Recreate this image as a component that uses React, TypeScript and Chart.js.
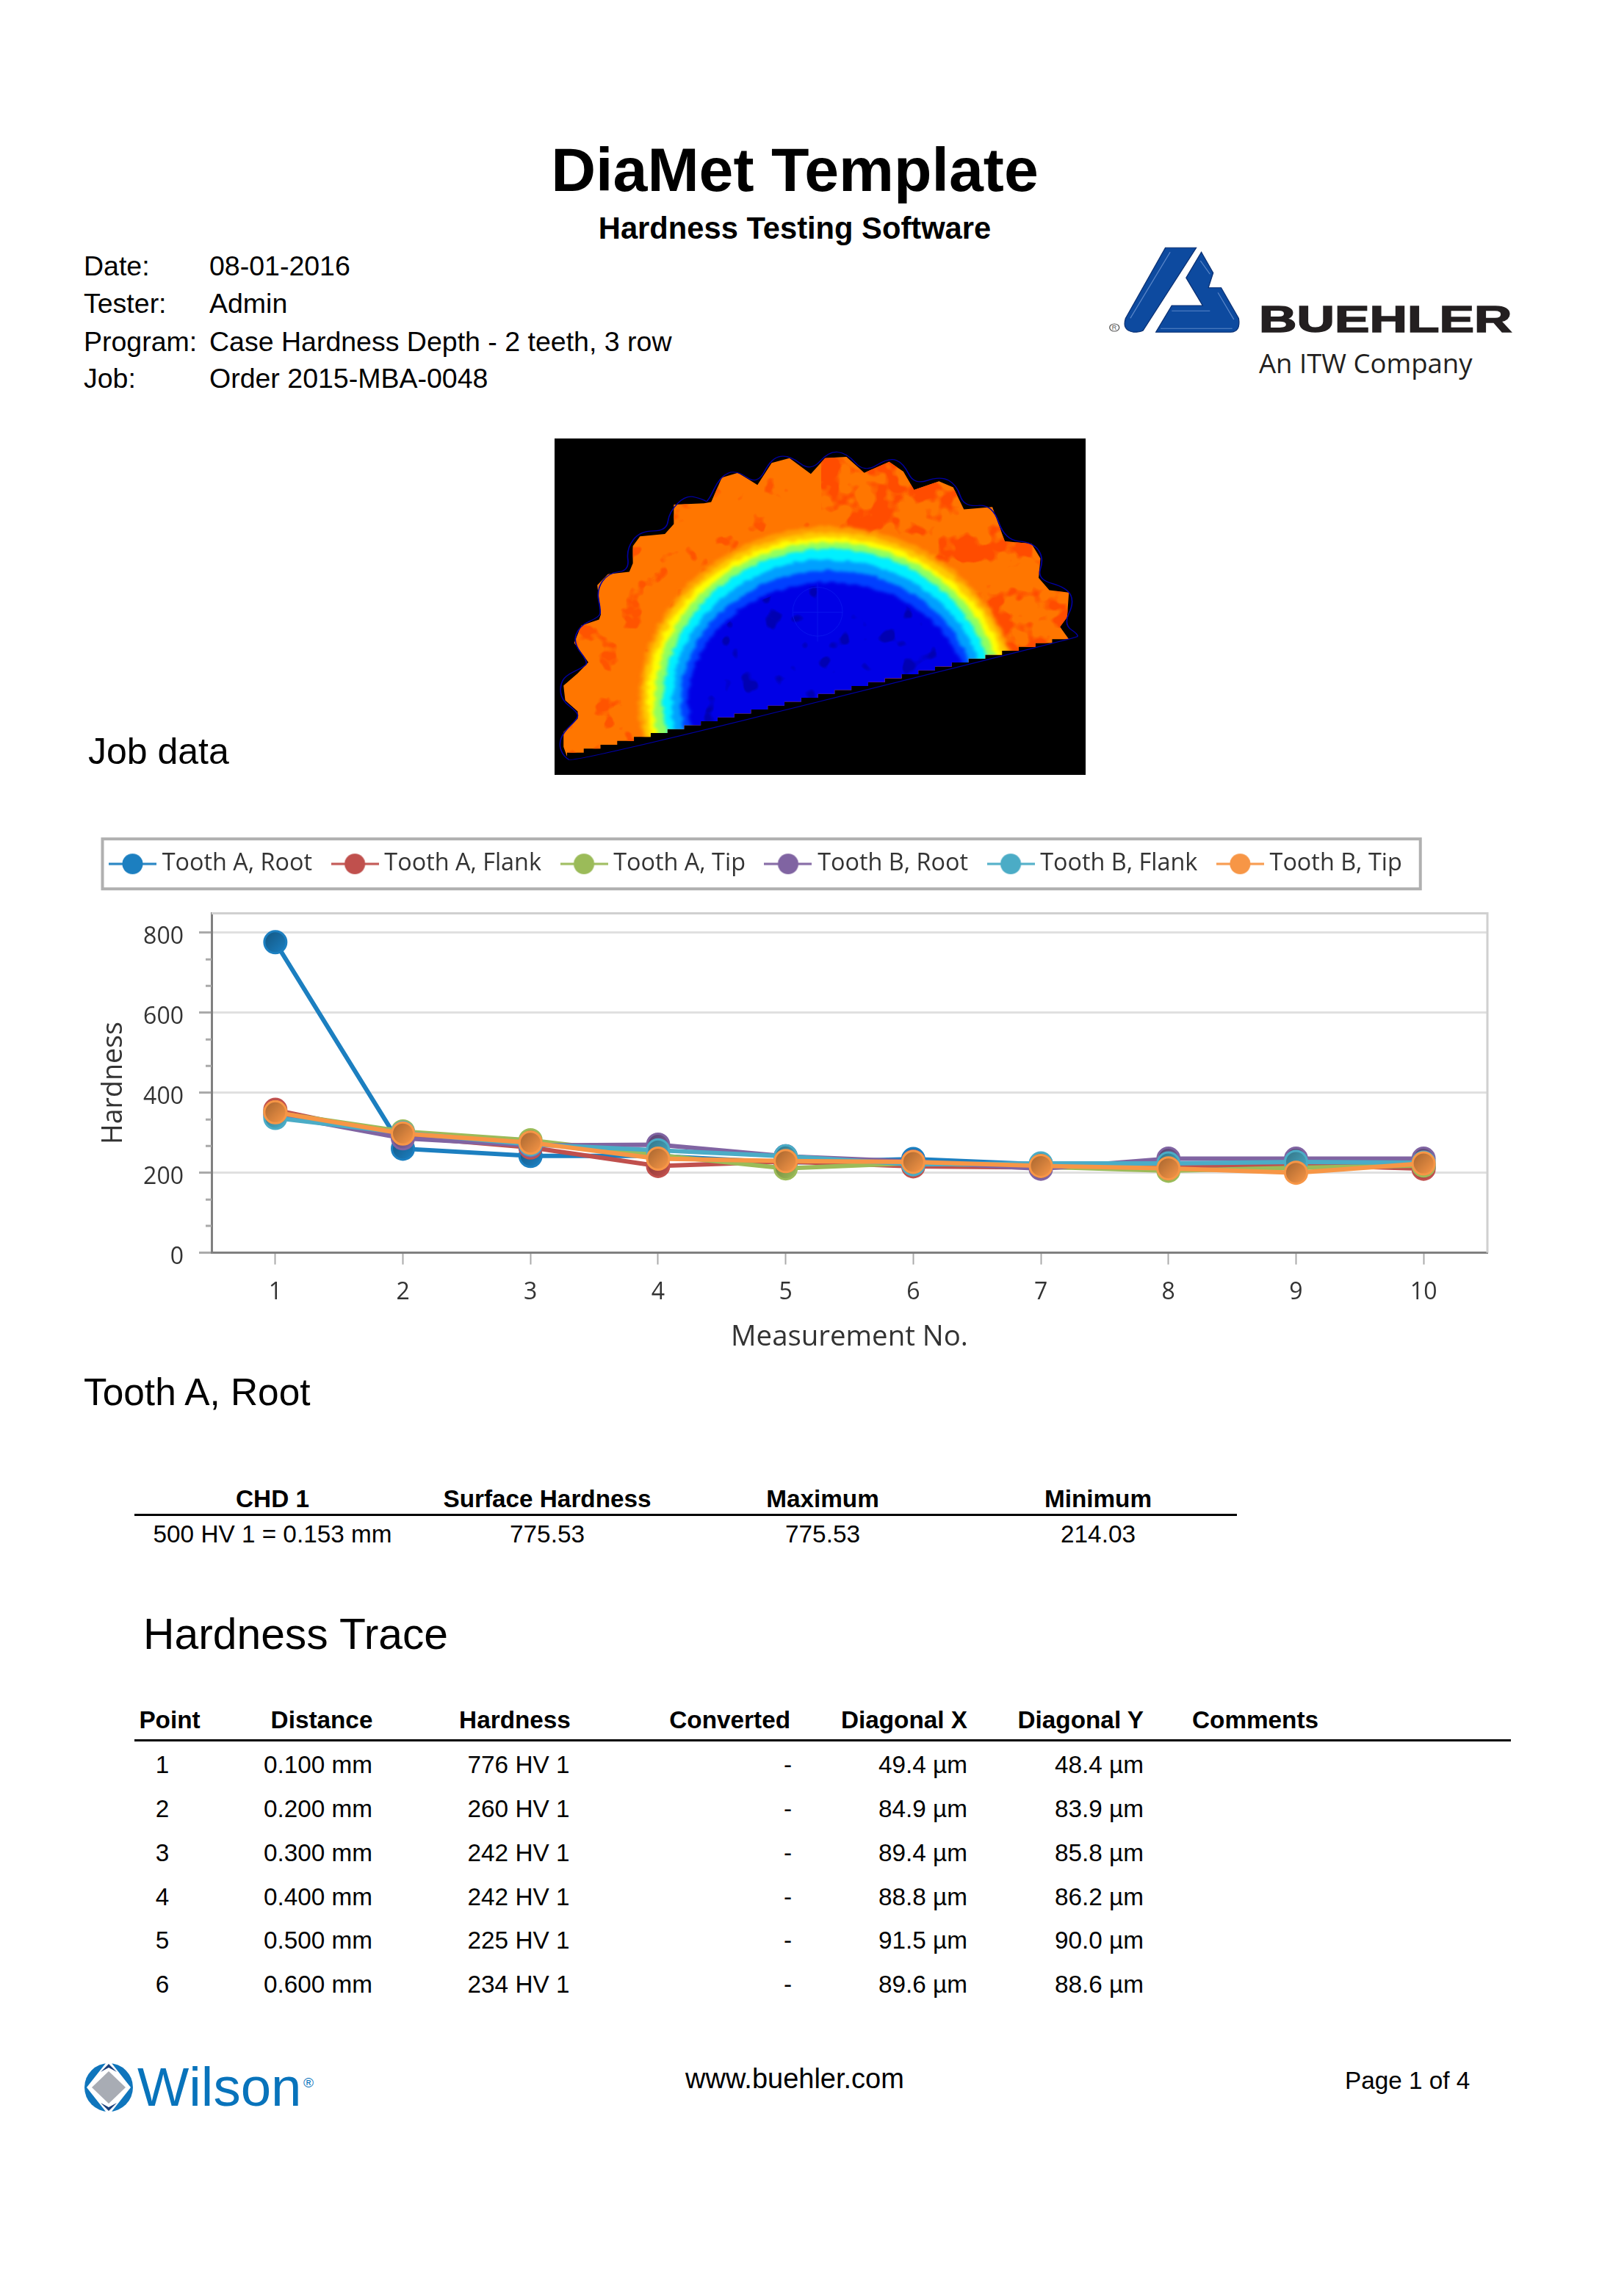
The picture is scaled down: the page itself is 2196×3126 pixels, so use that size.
import React, { useEffect, useRef } from "react";
import { Chart, registerables } from "chart.js";

Chart.register(...registerables);

const measurementNos = ["1", "2", "3", "4", "5", "6", "7", "8", "9", "10"];
const toothARoot = [776, 260, 242, 242, 225, 234, 221, 221, 226, 214];
const toothAFlank = [357, 290, 263, 217, 228, 216, 213, 216, 220, 210];
const toothATip = [350, 303, 281, 244, 211, 224, 215, 205, 212, 218];
const toothBRoot = [345, 286, 268, 270, 241, 228, 210, 235, 235, 235];
const toothBFlank = [337, 300, 271, 256, 241, 221, 223, 223, 227, 225];
const toothBTip = [351, 298, 275, 235, 229, 227, 217, 211, 200, 223];

const seriesNames = ["Tooth A, Root", "Tooth A, Flank", "Tooth A, Tip", "Tooth B, Root", "Tooth B, Flank", "Tooth B, Tip"];
const seriesValues = [toothARoot, toothAFlank, toothATip, toothBRoot, toothBFlank, toothBTip];
const seriesColors = ["#1c7fc0", "#c0504d", "#9bbb59", "#8064a2", "#4bacc6", "#f79646"];
const yMinorTicks = [67, 133, 267, 333, 467, 533, 667, 733];

const metaRows = [
  ["Date:", "08-01-2016"],
  ["Tester:", "Admin"],
  ["Program:", "Case Hardness Depth - 2 teeth, 3 row"],
  ["Job:", "Order 2015-MBA-0048"],
];
const summaryHeaders = ["CHD 1", "Surface Hardness", "Maximum", "Minimum"];
const summaryValues = ["500 HV 1 = 0.153 mm", "775.53", "775.53", "214.03"];
const tracePoints = ["1", "2", "3", "4", "5", "6"];
const traceDistances = ["0.100 mm", "0.200 mm", "0.300 mm", "0.400 mm", "0.500 mm", "0.600 mm"];
const traceHardness = ["776 HV 1", "260 HV 1", "242 HV 1", "242 HV 1", "225 HV 1", "234 HV 1"];
const traceDiagX = ["49.4 µm", "84.9 µm", "89.4 µm", "88.8 µm", "91.5 µm", "89.6 µm"];
const traceDiagY = ["48.4 µm", "83.9 µm", "85.8 µm", "86.2 µm", "90.0 µm", "88.6 µm"];

const CHART_FONT = '"Open Sans", sans-serif';
const DOC_FONT = '"Liberation Sans", Arial, sans-serif';

function shade(hex: string, k: number) {
  const n = parseInt(hex.slice(1), 16);
  const c = [(n >> 16) & 255, (n >> 8) & 255, n & 255].map((v) => Math.round(v * k));
  return `rgb(${c[0]},${c[1]},${c[2]})`;
}

function legendSymbol(color: string) {
  const c = document.createElement("canvas");
  c.width = 65;
  c.height = 32;
  const g = c.getContext("2d")!;
  g.strokeStyle = color;
  g.lineWidth = 3;
  g.beginPath();
  g.moveTo(0, 16);
  g.lineTo(65, 16);
  g.stroke();
  g.fillStyle = color;
  g.beginPath();
  g.arc(32.5, 16, 14, 0, Math.PI * 2);
  g.fill();
  return c;
}

const legendSpacing = {
  id: "legendSpacing",
  beforeInit(chart: any) {
    const legend = chart.legend;
    const fit = legend.fit;
    legend.fit = function () {
      fit.call(this);
      this.height = 117.6;
    };
  },
};

const tickLabelNudge = {
  id: "tickLabelNudge",
  afterUpdate(chart: any) {
    for (const item of chart.scales.y.getLabelItems()) item.textOffset += 6;
  },
};

const frameAndMinorTicks = {
  id: "frameAndMinorTicks",
  beforeDatasetsDraw(chart: any) {
    const { ctx, chartArea: a, scales, legend } = chart;
    ctx.save();
    ctx.strokeStyle = "#d0d0d0";
    ctx.lineWidth = 3;
    ctx.beginPath();
    ctx.moveTo(a.left, a.top);
    ctx.lineTo(a.right, a.top);
    ctx.lineTo(a.right, a.bottom);
    ctx.stroke();
    ctx.strokeStyle = "#aaaaaa";
    ctx.beginPath();
    for (const v of yMinorTicks) {
      const y = scales.y.getPixelForValue(v);
      ctx.moveTo(a.left - 8, y);
      ctx.lineTo(a.left, y);
    }
    ctx.stroke();
    const boxes = legend.legendHitBoxes;
    const first = boxes[0];
    const last = boxes[boxes.length - 1];
    ctx.strokeStyle = "#b0b0b0";
    ctx.lineWidth = 4;
    const cy = first.top + first.height / 2;
    ctx.strokeRect(first.left - 17, cy - 34, last.left + last.width + 25 - (first.left - 17), 68);
    ctx.restore();
  },
};

function T({ x, y, size, bold, align = "left", color = "#000", font = DOC_FONT, sx = 1, stroke = 0, children }: any) {
  const tx = align === "center" ? "-50%" : align === "right" ? "-100%" : "0";
  const origin = align === "center" ? "center" : align === "right" ? "right" : "left";
  return (
    <div
      style={{
        position: "absolute",
        left: x,
        top: y,
        fontFamily: font,
        fontSize: size,
        fontWeight: bold ? 700 : 400,
        color,
        whiteSpace: "nowrap",
        lineHeight: 1,
        transformOrigin: `${origin} center`,
        transform: `translate(${tx}, -50%) scaleX(${sx})`,
        WebkitTextStroke: stroke ? `${stroke}px ${color}` : undefined,
      }}
    >
      {children}
    </div>
  );
}

function smoothPath(p: number[][]) {
  let d = "";
  for (let i = 0; i < p.length; i++) {
    const a = p[i];
    const b = p[(i + 1) % p.length];
    const mx = (a[0] + b[0]) / 2;
    const my = (a[1] + b[1]) / 2;
    d += i === 0 ? `M${mx} ${my}` : `Q${a[0]} ${a[1]} ${mx} ${my}`;
  }
  const a = p[0];
  const b = p[1];
  return d + `Q${a[0]} ${a[1]} ${(a[0] + b[0]) / 2} ${(a[1] + b[1]) / 2}Z`;
}

const gearFill = [
  [55, 1310], [55, 1250], [95, 1195], [95, 1165], [60, 1120], [55, 1060], [95, 1010], [125, 965], [85, 885], [105, 815],
  [155, 790], [160, 770], [155, 710], [150, 650], [180, 605], [240, 595], [250, 560], [250, 490], [270, 450], [340, 440],
  [365, 400], [365, 320], [450, 315], [470, 310], [500, 210], [545, 190], [600, 240], [640, 150], [690, 130], [750, 195],
  [790, 130], [850, 125], [900, 190], [970, 145], [1010, 185], [1040, 260], [1110, 225], [1150, 250], [1180, 340],
  [1260, 330], [1295, 470], [1370, 480], [1395, 540], [1390, 620], [1420, 670], [1475, 680], [1470, 780], [1450, 820],
  [1475, 870],
];
const gearOutline = [
  [85, 1375], [55, 1350], [42, 1300], [55, 1250], [95, 1195], [95, 1170], [50, 1120], [45, 1060], [60, 1020], [110, 985],
  [125, 965], [82, 885], [100, 815], [155, 780], [160, 755], [148, 670], [180, 600], [240, 590], [232, 500], [270, 428],
  [345, 428], [352, 350], [400, 280], [450, 300], [460, 312], [495, 205], [540, 178], [600, 240], [640, 128], [690, 118],
  [750, 185], [800, 103], [850, 108], [900, 190], [970, 128], [1010, 150], [1040, 240], [1115, 203], [1160, 240],
  [1180, 330], [1260, 318], [1295, 465], [1375, 475], [1405, 540], [1385, 625], [1470, 660], [1490, 720], [1460, 810],
  [1505, 855], [1490, 866],
];

function stairEdge() {
  const out: number[][] = [];
  let x = 1475;
  let y = 870;
  while (x > 75) {
    out.push([x, y], [x - 47, y], [x - 47, y + 16]);
    x -= 47;
    y += 16;
  }
  return out;
}

function HeatMap() {
  const clip = [...gearFill, ...stairEdge()].map((p) => p.join(",")).join(" ");
  const outline = smoothPath(gearOutline);
  const bands: [number, number, string][] = [
    [533, 720, "#ff9c00"],
    [522, 697, "#ffc800"],
    [508, 675, "#ffff00"],
    [490, 655, "#90ff60"],
    [465, 630, "#00f0ff"],
    [440, 585, "#00a0ff"],
    [415, 540, "#0040ff"],
    [394, 492, "#0000e6"],
  ];
  return (
    <svg
      style={{ position: "absolute", left: 755, top: 597, width: 723, height: 458 }}
      viewBox="30 50 1492 1375"
      preserveAspectRatio="none"
    >
      <defs>
        <clipPath id="gear"><polygon points={clip} /></clipPath>
        <clipPath id="core"><ellipse cx="800" cy="1130" rx="385" ry="480" /></clipPath>
        <filter id="soft" x="-10%" y="-10%" width="120%" height="120%" colorInterpolationFilters="sRGB">
          <feTurbulence type="fractalNoise" baseFrequency="0.05" numOctaves="2" seed="3" result="n" />
          <feDisplacementMap in="SourceGraphic" in2="n" scale="22" xChannelSelector="R" yChannelSelector="G" />
          <feGaussianBlur stdDeviation="6" />
        </filter>
        <filter id="mottleWarm" x="0" y="0" width="100%" height="100%" colorInterpolationFilters="sRGB">
          <feTurbulence type="fractalNoise" baseFrequency="0.012 0.009" numOctaves="3" seed="4" />
          <feColorMatrix type="matrix" values="0 0 0 0 1  0 0 0 0 0.3  0 0 0 0 0  10 0 0 0 -5" />
        </filter>
        <filter id="mottleLeft" x="0" y="0" width="100%" height="100%" colorInterpolationFilters="sRGB">
          <feTurbulence type="fractalNoise" baseFrequency="0.014 0.01" numOctaves="3" seed="9" />
          <feColorMatrix type="matrix" values="0 0 0 0 1  0 0 0 0 0.33  0 0 0 0 0  10 0 0 0 -6.3" />
        </filter>
        <filter id="mottleDeep" x="0" y="0" width="100%" height="100%" colorInterpolationFilters="sRGB">
          <feTurbulence type="fractalNoise" baseFrequency="0.018 0.012" numOctaves="2" seed="12" />
          <feColorMatrix type="matrix" values="0 0 0 0 0  0 0 0 0 0  0 0 0 0 0.7  10 0 0 0 -6.4" />
        </filter>
      </defs>
      <rect x="30" y="50" width="1492" height="1375" fill="#000" />
      <g clipPath="url(#gear)">
        <rect x="30" y="50" width="1492" height="1375" fill="#ff7600" />
        <rect x="780" y="50" width="742" height="1000" filter="url(#mottleWarm)" />
        <rect x="30" y="50" width="750" height="1375" filter="url(#mottleLeft)" />
        <g filter="url(#soft)">
          {bands.map(([rx, ry, col]) => (
            <ellipse key={col} cx="800" cy="1130" rx={rx} ry={ry} fill={col} />
          ))}
        </g>
        <g clipPath="url(#core)">
          <rect x="30" y="50" width="1492" height="1375" filter="url(#mottleDeep)" />
        </g>
        <ellipse cx="769" cy="758" rx="70" ry="100" fill="none" stroke="#0a18ee" strokeWidth="2" />
        <path d="M769 640V880M700 760H840" fill="none" stroke="#0a18ee" strokeWidth="2" />
      </g>
      <path d={outline} fill="none" stroke="#0000a0" strokeWidth="3.5" />
    </svg>
  );
}

function BuehlerLogo() {
  return (
    <>
      <svg
        style={{ position: "absolute", left: 1450, top: 310, width: 680, height: 230 }}
        viewBox="0 0 1568 690"
        preserveAspectRatio="none"
      >
        <path d="M315 82H412L245 420Q235 427 215 427Q178 420 190 370Z" fill="#0d4a9f" stroke="#0a2f72" strokeWidth="3" />
        <path d="M428 100L465 185L450 245H490L545 370Q552 425 520 427H285L335 318H432L380 205Z" fill="#0d4a9f" stroke="#0a2f72" strokeWidth="3" />
        <path d="M335 340H455M480 265L530 375M300 412H525M425 135L455 190M330 100L205 370" fill="none" stroke="#5a86c8" strokeWidth="3" />
        <circle cx="155" cy="408" r="15" fill="none" stroke="#555" strokeWidth="3" />
      </svg>
      <T x={1517} y={446} size={9} align="center" color="#555">R</T>
      <T x={1714} y={435} size={50} bold sx={1.425} stroke={1.5} color="#231f20">BUEHLER</T>
      <T x={1714} y={494} size={36.5} color="#231f20" font={'"Open Sans", sans-serif'}>An ITW Company</T>
    </>
  );
}

function WilsonLogo() {
  return (
    <>
      <svg style={{ position: "absolute", left: 112, top: 2806, width: 72, height: 72 }} viewBox="0 0 72 72">
        <ellipse cx="36" cy="36" rx="33" ry="33" fill="#0f75bc" />
        <polygon points="36,-2 66,36 36,74 6,36" fill="#fff" />
        <polygon points="36,14 59,36 36,58 13,36" fill="#a8acb4" />
        <path d="M25 15L36 4L47 15L36 9Z M25 57L36 68L47 57L36 63Z" fill="#1b3f7a" />
      </svg>
      <T x={187} y={2842} size={74.5} color="#0873bb">Wilson</T>
      <T x={420} y={2835} size={19} align="center" color="#0873bb">®</T>
    </>
  );
}

export default function App() {
  const ref = useRef<HTMLCanvasElement | null>(null);

  useEffect(() => {
    const symbols = seriesColors.map(legendSymbol);
    const chart = new Chart(ref.current!, {
      type: "line",
      plugins: [legendSpacing, frameAndMinorTicks, tickLabelNudge],
      data: {
        labels: measurementNos,
        datasets: seriesNames.map((name, i) => ({
          label: name,
          data: seriesValues[i],
          order: seriesNames.length - i,
          borderColor: seriesColors[i],
          borderWidth: 6,
          tension: 0,
          fill: false,
          pointRadius: 15,
          pointHoverRadius: 15,
          pointBorderWidth: 3,
          pointBorderColor: seriesColors[i],
          pointBackgroundColor: (c: any) => {
            if (c.type !== "data") return seriesColors[i];
            const { x, y } = c.chart.scales;
            const px = x.getPixelForValue(c.dataIndex);
            const py = y.getPixelForValue(c.raw);
            if (!Number.isFinite(px) || !Number.isFinite(py)) return seriesColors[i];
            const g = c.chart.ctx.createLinearGradient(px - 12, py - 12, px + 12, py + 12);
            g.addColorStop(0, shade(seriesColors[i], 0.7));
            g.addColorStop(1, shade(seriesColors[i], 0.98));
            return g;
          },
        })),
      },
      options: {
        responsive: false,
        animation: false,
        layout: { padding: { left: 122.5, top: 2, right: 171, bottom: 0 } },
        plugins: {
          tooltip: { enabled: false },
          legend: {
            position: "top",
            align: "start",
            labels: {
              usePointStyle: true,
              pointStyleWidth: 48,
              padding: 34,
              color: "#333333",
              font: { family: CHART_FONT, size: 32.4 },
              generateLabels: () =>
                seriesNames.map((name, i) => ({
                  text: name,
                  datasetIndex: i,
                  pointStyle: symbols[i],
                  fillStyle: seriesColors[i],
                  strokeStyle: seriesColors[i],
                  lineWidth: 0,
                  fontColor: "#333333",
                })),
            },
          },
        },
        scales: {
          x: {
            type: "category",
            offset: true,
            afterFit: (s: any) => {
              s.height = 144.4;
            },
            grid: { drawOnChartArea: false, drawTicks: true, tickLength: 16, tickColor: "#aaaaaa", tickWidth: 2, offset: false },
            border: { color: "#808080", width: 3 },
            ticks: { color: "#333333", font: { family: CHART_FONT, size: 32 }, padding: 19, maxRotation: 0 },
            title: {
              display: true,
              text: "Measurement No.",
              color: "#333333",
              font: { family: CHART_FONT, size: 38.4 },
              padding: { top: 0, bottom: 6 },
            },
          },
          y: {
            min: 0,
            max: 848,
            afterFit: (s: any) => {
              s.width = 165.5;
            },
            grid: { color: "#e0e0e0", lineWidth: 3, tickLength: 17, tickColor: "#aaaaaa", tickWidth: 3 },
            border: { color: "#808080", width: 3 },
            ticks: {
              stepSize: 200,
              includeBounds: false,
              color: "#333333",
              font: { family: CHART_FONT, size: 32 },
              padding: 21,
            },
            title: {
              display: true,
              text: "Hardness",
              color: "#333333",
              font: { family: CHART_FONT, size: 37.6 },
              padding: { top: 10, bottom: 0 },
            },
          },
        },
      },
    } as any);
    return () => chart.destroy();
  }, []);

  const summaryX = [371, 745, 1120, 1495];
  const metaY = [363, 414, 466, 516];
  const rowY = [2403, 2463, 2523, 2583, 2642, 2702];

  return (
    <div style={{ position: "absolute", left: 0, top: 0, width: 2196, height: 3126, background: "#fff", overflow: "hidden" }}>
      <T x={1082} y={231} size={84.3} bold align="center">DiaMet Template</T>
      <T x={1082} y={311} size={41.7} bold align="center">Hardness Testing Software</T>
      {metaRows.map(([k, v], i) => (
        <React.Fragment key={k}>
          <T x={114} y={metaY[i]} size={37.5}>{k}</T>
          <T x={285} y={metaY[i]} size={37.5}>{v}</T>
        </React.Fragment>
      ))}
      <BuehlerLogo />
      <HeatMap />
      <T x={120} y={1023} size={50}>Job data</T>
      <canvas ref={ref} width={2196} height={726} style={{ position: "absolute", left: 0, top: 1124, display: "block" }} />
      <T x={114} y={1896} size={51.4}>Tooth A, Root</T>
      {summaryHeaders.map((h, i) => (
        <T key={h} x={summaryX[i]} y={2041} size={33.3} bold align="center">{h}</T>
      ))}
      <div style={{ position: "absolute", left: 183, top: 2061, width: 1501, height: 3, background: "#000" }} />
      {summaryValues.map((v, i) => (
        <T key={i} x={summaryX[i]} y={2089} size={33.3} align="center">{v}</T>
      ))}
      <T x={195} y={2225} size={58.8}>Hardness Trace</T>
      <T x={231} y={2342} size={33.3} bold align="center">Point</T>
      <T x={438} y={2342} size={33.3} bold align="center">Distance</T>
      <T x={701} y={2342} size={33.3} bold align="center">Hardness</T>
      <T x={1076} y={2342} size={33.3} bold align="right">Converted</T>
      <T x={1317} y={2342} size={33.3} bold align="right">Diagonal X</T>
      <T x={1557} y={2342} size={33.3} bold align="right">Diagonal Y</T>
      <T x={1623} y={2342} size={33.3} bold>Comments</T>
      <div style={{ position: "absolute", left: 183, top: 2368, width: 1874, height: 3, background: "#000" }} />
      {tracePoints.map((p, i) => (
        <React.Fragment key={p}>
          <T x={221} y={rowY[i]} size={33.3} align="center">{p}</T>
          <T x={507} y={rowY[i]} size={33.3} align="right">{traceDistances[i]}</T>
          <T x={706} y={rowY[i]} size={33.3} align="center">{traceHardness[i]}</T>
          <T x={1078} y={rowY[i]} size={33.3} align="right">-</T>
          <T x={1317} y={rowY[i]} size={33.3} align="right">{traceDiagX[i]}</T>
          <T x={1557} y={rowY[i]} size={33.3} align="right">{traceDiagY[i]}</T>
        </React.Fragment>
      ))}
      <WilsonLogo />
      <T x={1082} y={2830} size={38} align="center">www.buehler.com</T>
      <T x={1831} y={2833} size={33.3}>Page 1 of 4</T>
    </div>
  );
}
